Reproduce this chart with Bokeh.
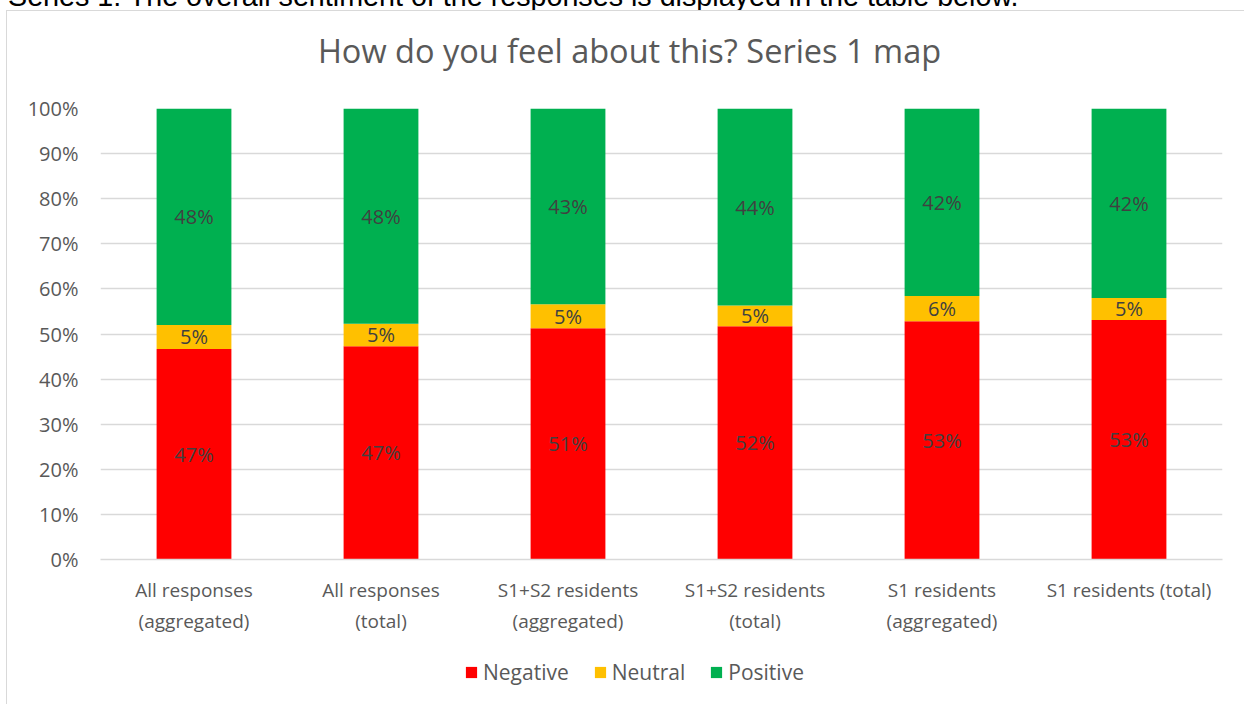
from bokeh.plotting import figure
from bokeh.models import (ColumnDataSource, LabelSet, Legend, LegendItem, Div,
                          NumeralTickFormatter, FixedTicker, Range1d)
from bokeh.layouts import column
from bokeh.core.properties import value
from bokeh.embed import file_html
from bokeh.resources import INLINE

categories = ["All responses\n(aggregated)", "All responses\n(total)",
              "S1+S2 residents\n(aggregated)", "S1+S2 residents\n(total)",
              "S1 residents\n(aggregated)", "S1 residents (total)"]
negative = [46.7, 47.3, 51.3, 51.7, 52.8, 53.1]
neutral = [5.3, 5.0, 5.3, 4.6, 5.6, 4.9]
positive = [48.0, 47.7, 43.4, 43.7, 41.6, 42.0]
series = ["Negative", "Neutral", "Positive"]
colors = ["#FF0000", "#FFC000", "#00B050"]
y_ticks = [i / 10 for i in range(11)]

title_text = "How do you feel about this? Series 1 map"
header_text = "Series 1: The overall sentiment of the responses is displayed in the table below."

FONT = "Open Sans"
GRID = "#d9d9d9"
CW = 1237   # chart content width

# ---- header line of the document (cut off at the top of the page) ----
header = Div(
    text=('<div style="position:relative;top:-20px;left:8px;white-space:nowrap;'
          'font-family:\'Liberation Sans\';font-size:28.7px;line-height:normal;'
          'color:#000000">' + header_text + '</div>'),
    width=1244, height=10, margin=0, styles={"overflow": "hidden"})

# ---- chart title ----
title = Div(
    text=('<div style="position:relative;top:17px;left:4px;width:1237px;text-align:center;'
          'white-space:nowrap;font-family:\'Open Sans\';font-size:32.5px;line-height:normal;'
          'color:#595959">' + title_text + '</div>'),
    width=CW, height=75, margin=0, styles={"overflow": "hidden", "background": "white"})

# ---- main chart ----
neg = [v / 100 for v in negative]
neu = [v / 100 for v in neutral]
pos = [v / 100 for v in positive]
src = ColumnDataSource(dict(
    cat=categories,
    b1=[0.0] * len(neg),
    t1=neg,
    t2=[a + b for a, b in zip(neg, neu)],
    t3=[a + b + c for a, b, c in zip(neg, neu, pos)],
    m1=[a / 2 for a in neg],
    m2=[a + b / 2 for a, b in zip(neg, neu)],
    m3=[a + b + c / 2 for a, b, c in zip(neg, neu, pos)],
    l1=[f"{round(v)}%" for v in negative],
    l2=[f"{round(v)}%" for v in neutral],
    l3=[f"{round(v)}%" for v in positive],
))

p = figure(x_range=categories, y_range=Range1d(0, 1), width=CW, height=564,
           output_backend="svg", toolbar_location=None,
           min_border_left=93, min_border_right=22,
           min_border_top=22, min_border_bottom=91)
p.outline_line_color = None
p.background_fill_color = "white"
p.border_fill_color = "white"

bar_w = 0.4
p.vbar(x="cat", bottom="b1", top="t1", width=bar_w, source=src,
       fill_color=colors[0], line_color=None)
p.vbar(x="cat", bottom="t1", top="t2", width=bar_w, source=src,
       fill_color=colors[1], line_color=None)
p.vbar(x="cat", bottom="t2", top="t3", width=bar_w, source=src,
       fill_color=colors[2], line_color=None)

for ycol, tcol in (("m1", "l1"), ("m2", "l2"), ("m3", "l3")):
    p.add_layout(LabelSet(x="cat", y=ycol, text=tcol, source=src,
                          text_align="center", text_baseline="middle",
                          text_font=value(FONT), text_font_size="20px",
                          text_color="#404040"))

p.yaxis.ticker = FixedTicker(ticks=y_ticks)
p.yaxis.formatter = NumeralTickFormatter(format="0%")
p.yaxis.axis_line_color = None
p.yaxis.major_tick_line_color = None
p.yaxis.minor_tick_line_color = None
p.yaxis.major_label_text_font = FONT
p.yaxis.major_label_text_font_size = "20px"
p.yaxis.major_label_text_color = "#595959"
p.yaxis.major_label_standoff = 16

p.xaxis.axis_line_color = GRID
p.xaxis.axis_line_width = 1.5
p.xaxis.major_tick_line_color = None
p.xaxis.minor_tick_line_color = None
p.xaxis.major_label_text_font = FONT
p.xaxis.major_label_text_font_size = "19px"
p.xaxis.major_label_text_color = "#595959"
p.xaxis.major_label_standoff = 11

p.xgrid.grid_line_color = None
p.ygrid.grid_line_color = GRID
p.ygrid.grid_line_width = 1.5

# ---- legend strip ----
lg = figure(width=CW, height=54, x_range=Range1d(0, 1), y_range=Range1d(0, 1),
            output_backend="svg", toolbar_location=None,
            min_border_left=0, min_border_right=0, min_border_top=0, min_border_bottom=0)
lg.axis.visible = False
lg.grid.visible = False
lg.outline_line_color = None
lg.border_fill_color = "white"
proxy = ColumnDataSource(dict(x=[float("nan")], top=[float("nan")]))
legend_renderers = [lg.vbar(x="x", top="top", width=1, source=proxy,
                            fill_color=c, line_color=None) for c in colors]
legend = Legend(items=[LegendItem(label=s, renderers=[r])
                       for s, r in zip(series, legend_renderers)],
                orientation="horizontal", location=(364, 18),
                glyph_width=14, glyph_height=14, label_standoff=5, spacing=24,
                padding=0, margin=0, border_line_color=None,
                background_fill_alpha=0,
                label_text_font=FONT, label_text_font_size="21px",
                label_text_color="#595959")
lg.add_layout(legend, "center")

box_style = {"margin-left": "6px", "border-left": f"1px solid {GRID}",
             "border-top": f"1px solid {GRID}"}
chart = column(title, p, lg, styles=box_style)
layout = column(header, chart)

open("out.html", "w").write(file_html(layout, INLINE))
